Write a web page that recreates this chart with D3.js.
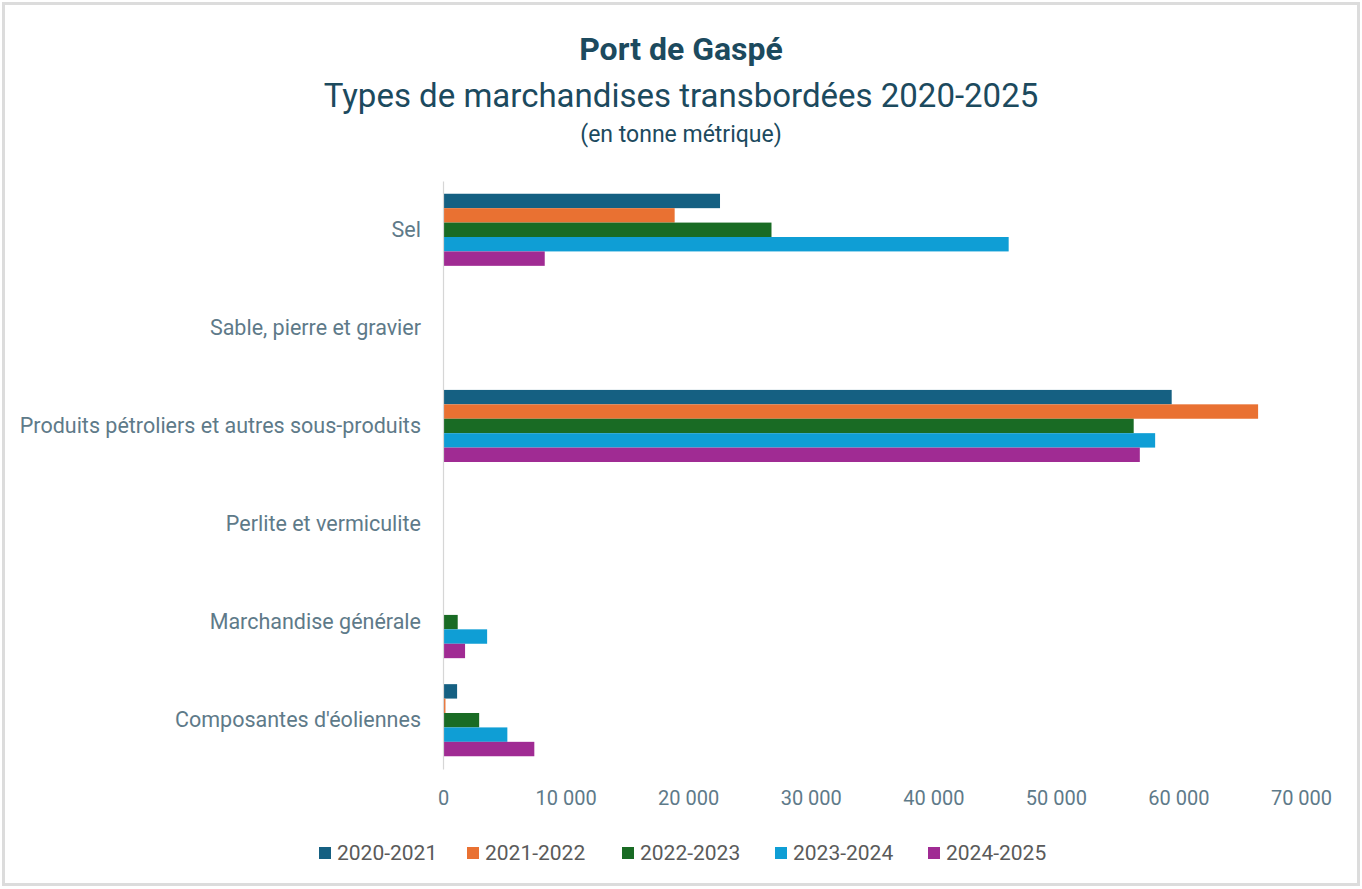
<!DOCTYPE html>
<html>
<head>
<meta charset="utf-8">
<script src="https://cdn.jsdelivr.net/npm/d3@7"></script>
<style>
  body { margin: 0; background: #fff; }
  svg { display: block; font-family: Roboto, "Open Sans", sans-serif; }
</style>
</head>
<body>
<svg id="chart" width="1362" height="889"></svg>
<script>
// categories (top to bottom) and seasons
const categories = [
  "Sel",
  "Sable, pierre et gravier",
  "Produits pétroliers et autres sous-produits",
  "Perlite et vermiculite",
  "Marchandise générale",
  "Composantes d'éoliennes"
];
const seasons = ["2020-2021", "2021-2022", "2022-2023", "2023-2024", "2024-2025"];
const seasonColors = ["#156082", "#E97132", "#196B24", "#0F9ED5", "#A02B93"];

// tonnes per category, one array per season (same order as categories)
const v2020 = [22600, 0, 59450, 0, 0, 1150];
const v2021 = [18900, 0, 66500, 0, 0, 200];
const v2022 = [26800, 0, 56350, 0, 1200, 2950];
const v2023 = [46150, 0, 58100, 0, 3600, 5250];
const v2024 = [8300, 0, 56850, 0, 1800, 7450];
const seriesValues = [v2020, v2021, v2022, v2023, v2024];

const xTicks = [0, 10000, 20000, 30000, 40000, 50000, 60000, 70000];

const svg = d3.select("#chart");

// light frame round the chart area
svg.append("rect")
    .attr("x", 3.5).attr("y", 3.5)
    .attr("width", 1355).attr("height", 881)
    .attr("fill", "#fff")
    .attr("stroke", "#dcdcdc")
    .attr("stroke-width", 3);

// titles
svg.append("text")
    .attr("x", 681).attr("y", 60)
    .attr("text-anchor", "middle")
    .attr("font-size", 32).attr("font-weight", "bold")
    .attr("fill", "#1c4a5e")
    .text("Port de Gaspé");
svg.append("text")
    .attr("x", 681).attr("y", 107)
    .attr("text-anchor", "middle")
    .attr("font-size", 33)
    .attr("fill", "#1c4a5e")
    .text("Types de marchandises transbordées 2020-2025");
svg.append("text")
    .attr("x", 681).attr("y", 142)
    .attr("text-anchor", "middle")
    .attr("font-size", 23)
    .attr("fill", "#1c4a5e")
    .text("(en tonne métrique)");

const plotLeft = 443, plotRight = 1301, plotTop = 181, plotBottom = 769;

const x = d3.scaleLinear().domain([0, 70000]).range([plotLeft, plotRight]);
const y0 = d3.scaleBand().domain(categories).range([plotTop, plotBottom]).paddingInner(0.265).paddingOuter(0.13);
const y1 = d3.scaleBand().domain(seasons).range([0, y0.bandwidth()]);

// bars
const groups = svg.append("g").attr("class", "bars")
  .selectAll("g")
  .data(seasons)
  .join("g")
    .attr("fill", (d, i) => seasonColors[i]);

groups.selectAll("rect")
  .data((s, i) => categories.map((c, j) => ({ season: s, cat: c, value: seriesValues[i][j] })))
  .join("rect")
    .attr("x", x(0))
    .attr("y", d => y0(d.cat) + y1(d.season))
    .attr("width", d => x(d.value) - x(0))
    .attr("height", y1.bandwidth());

// x axis labels (no axis line, Excel style)
const xAxis = d3.axisBottom(x)
    .tickValues(xTicks)
    .tickSize(0)
    .tickPadding(0)
    .tickFormat(d => d3.format(",")(d).replace(/,/g, " "));
const gx = svg.append("g")
    .attr("transform", `translate(0, ${plotBottom + 22})`)
    .call(xAxis);
gx.select(".domain").remove();
gx.selectAll("text")
    .attr("font-size", 20)
    .attr("font-family", "Roboto, sans-serif")
    .attr("fill", "#5e7a89");

// y axis: vertical line and category labels
const yAxis = d3.axisLeft(y0).tickSize(0).tickPadding(22);
const gy = svg.append("g")
    .attr("transform", `translate(${plotLeft}, 0)`)
    .call(yAxis);
gy.select(".domain").attr("stroke", "#d6d6d6").attr("stroke-width", 1.2);
gy.selectAll("text")
    .attr("font-size", 21.5)
    .attr("font-family", "Roboto, sans-serif")
    .attr("fill", "#5e7a89");

// legend
const legendX = [319, 467, 622, 775, 928];
const legend = svg.append("g").attr("class", "legend")
  .selectAll("g")
  .data(seasons)
  .join("g")
    .attr("transform", (d, i) => `translate(${legendX[i]}, 853)`);
legend.append("rect")
    .attr("x", 0).attr("y", -6)
    .attr("width", 12).attr("height", 12)
    .attr("fill", (d, i) => seasonColors[i]);
legend.append("text")
    .attr("x", 18).attr("y", 0)
    .attr("dy", "0.35em")
    .attr("font-size", 21)
    .attr("fill", "#5a5a5a")
    .text(d => d);
</script>
</body>
</html>
